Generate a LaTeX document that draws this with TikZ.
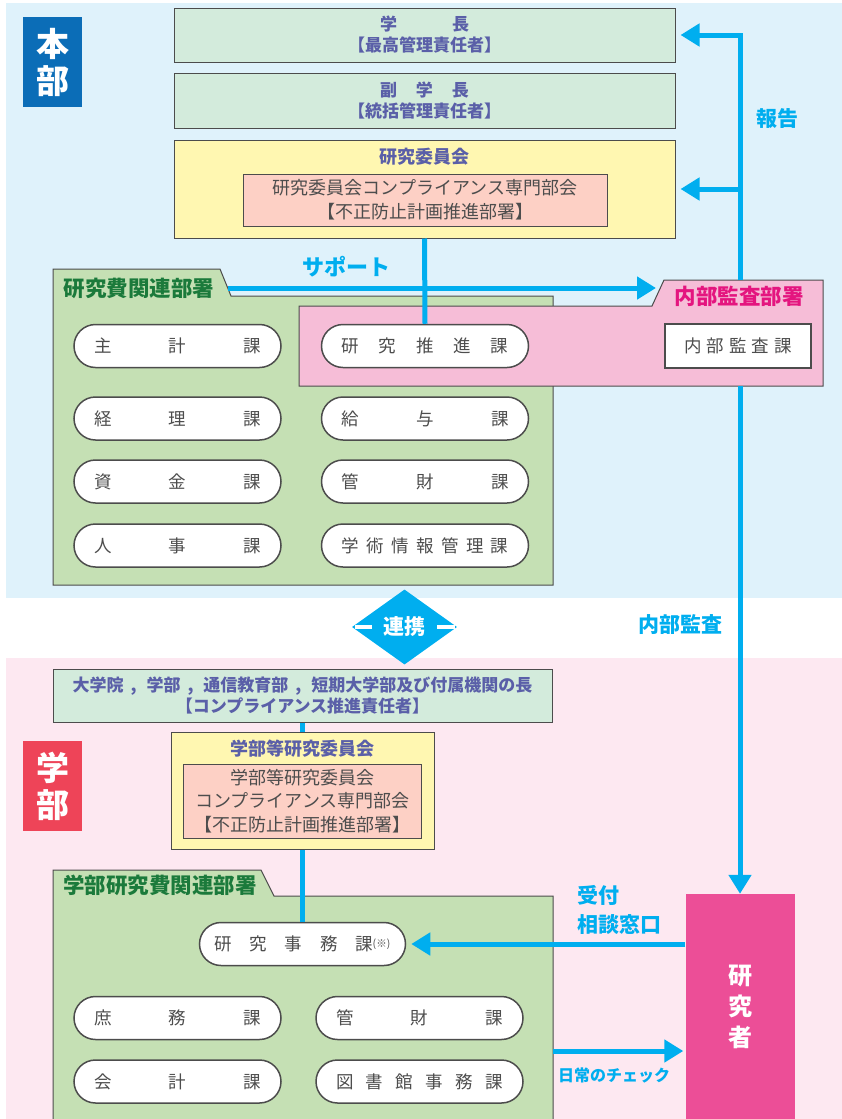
\documentclass[tikz,border=0pt]{standalone}
\usepackage{fontspec}
\setmainfont{Noto Sans CJK JP}
\usepackage{tikz}
\usetikzlibrary{shapes,arrows,arrows.meta}
\usepackage{color}

\definecolor{honbubg}{HTML}{DFF2FB}
\definecolor{gakububg}{HTML}{FDE8F1}
\definecolor{honbutag}{HTML}{0B6DB7}
\definecolor{gakubutag}{HTML}{EE4458}
\definecolor{bossgreen}{HTML}{D3EBDC}
\definecolor{bosstext}{HTML}{5A5FA8}
\definecolor{iinyellow}{HTML}{FFF7B1}
\definecolor{senmonpink}{HTML}{FDD0C5}
\definecolor{deptgreen}{HTML}{C5E0B4}
\definecolor{depttext}{HTML}{1B7A3B}
\definecolor{kansapink}{HTML}{F6BDD7}
\definecolor{kansatext}{HTML}{E4157F}
\definecolor{researcherpink}{HTML}{EC4E97}
\definecolor{flowcyan}{HTML}{00AEEF}
\definecolor{katext}{HTML}{4D4D4D}

\tikzstyle{line} = [draw=flowcyan, line width=5pt, -{Triangle[length=19pt,width=22pt]}]
\tikzstyle{wire} = [draw=flowcyan, line width=5pt]
\tikzstyle{boss} = [draw=black!70, line width=1pt, fill=bossgreen, align=center, inner sep=0pt, text=bosstext, font=\bfseries\fontsize{17}{21}\selectfont]
\tikzstyle{iin} = [draw=black!70, line width=1pt, fill=iinyellow, inner sep=0pt]
\tikzstyle{iintitle} = [text=bosstext, inner sep=0pt, font=\bfseries\fontsize{18}{21}\selectfont]
\tikzstyle{senmon} = [draw=black!70, line width=1pt, fill=senmonpink, align=center, inner sep=0pt, text=katext, font=\fontsize{18}{24}\selectfont]
\tikzstyle{ka} = [rounded rectangle, draw=black!70, line width=1.5pt, fill=white, minimum width=207pt, minimum height=43pt, inner sep=0pt, text=katext, font=\fontsize{17.5}{20}\selectfont]
\tikzstyle{tag} = [text=white, align=center, inner sep=0pt, minimum width=59pt, minimum height=90pt, font=\bfseries\fontsize{33}{37}\selectfont]
\tikzstyle{flow} = [text=flowcyan, inner sep=0pt, align=left, font=\bfseries\fontsize{21}{29}\selectfont]
\tikzstyle{dept} = [draw=black!70, line width=1pt, fill=deptgreen]
\tikzstyle{depttitle} = [text=depttext, inner sep=0pt, font=\bfseries\fontsize{21.5}{24}\selectfont]

\newcommand{\kaname}[1]{\makebox[167pt]{#1}}
\newcommand{\dsep}{\hspace{7pt},\hspace{10pt}}

\begin{document}
\begin{tikzpicture}[x=1pt,y=-1pt]
  \useasboundingbox (0,0) rectangle (842,1119);
  \fill[honbubg] (6,3) rectangle (842,598);
  \fill[gakububg] (6,658) rectangle (842,1119);

  \node[tag, fill=honbutag] (honbu) at (52.5,62) {本\\部};
  \node[tag, fill=gakubutag] (gakubu) at (52.5,786) {学\\部};

  % honbu
  \node[boss, minimum width=501pt, minimum height=54pt] (gakucho) at (424.5,35) {\makebox[89pt]{学\hfill 長}\\【最高管理責任者】};
  \node[boss, minimum width=501pt, minimum height=55pt] (fukugakucho) at (424.5,100.5) {\makebox[89pt]{副\hfill 学\hfill 長}\\【統括管理責任者】};
  \node[iin, minimum width=501pt, minimum height=98pt] (iinkai) at (424.5,189) {};
  \node[iintitle] (iinkaititle) at (424.5,157) {研究委員会};
  \node[senmon, minimum width=364pt, minimum height=52pt] (senmon) at (425,200) {研究委員会コンプライアンス専門部会\\【不正防止計画推進部署】};

  \path[dept] (53,585) -- (53,269) -- (220,269) -- (231,296) -- (553,296) -- (553,585) -- cycle;
  \node[depttitle] (hiyoutitle) at (139,288) {研究費関連部署};

  \path[dept, fill=kansapink] (299,306) -- (652,306) -- (664,280) -- (823,280) -- (823,386) -- (299,386) -- cycle;
  \node[depttitle, text=kansatext] (kansatitle) at (739,296) {内部監査部署};
  \node[draw=black!70, line width=1.5pt, fill=white, minimum width=146pt, minimum height=44pt, inner sep=0pt, text=katext, font=\fontsize{17.5}{20}\selectfont] (kansaka) at (738,346) {\makebox[108pt]{内\hfill 部\hfill 監\hfill 査\hfill 課}};

  \node[ka] (shukei) at (177.5,346) {\kaname{主\hfill 計\hfill 課}};
  \node[ka] (keiri) at (177.5,418.5) {\kaname{経\hfill 理\hfill 課}};
  \node[ka] (shikin) at (177.5,481.5) {\kaname{資\hfill 金\hfill 課}};
  \node[ka] (jinji) at (177.5,545.5) {\kaname{人\hfill 事\hfill 課}};
  \node[ka] (suishin) at (425,346) {\kaname{研\hfill 究\hfill 推\hfill 進\hfill 課}};
  \node[ka] (kyuyo) at (425,418.5) {\kaname{給\hfill 与\hfill 課}};
  \node[ka] (kanzai) at (425,481.5) {\kaname{管\hfill 財\hfill 課}};
  \node[ka] (gakujutsu) at (425,545.5) {\kaname{学\hfill 術\hfill 情\hfill 報\hfill 管\hfill 理\hfill 課}};

  \coordinate (kansatop) at (740,280);
  \coordinate (kansabot) at (740,386);
  \coordinate (hokoku) at (740,189);
  \coordinate (support) at (228,288);
  \coordinate (kansatab) at (656,288);

  \path [line, shorten >=5pt] (kansatop) |- (gakucho.east);
  \path [line, shorten >=5pt] (hokoku) -- (iinkai.east);
  \path [wire] (iinkai.south) -- (suishin.north);
  \path [line] (support) -- (kansatab);

  \node[flow] (hokokulabel) at (777,119) {報告};
  \node[flow, font=\bfseries\fontsize{22}{29}\selectfont] (supportlabel) at (346,267) {サポート};
  \node[flow] (kansalabel) at (680,625) {内部監査};

  % renkei
  \node[diamond, fill=flowcyan, minimum width=105pt, minimum height=75pt, inner sep=0pt, text=white, font=\bfseries\fontsize{21}{24}\selectfont] (renkei) at (404.5,627) {連携};
  \fill[white] (355,625) rectangle (372,629);
  \fill[white] (437,625) rectangle (455,629);

  % gakubu
  \node[boss, minimum width=499pt, minimum height=53pt] (daigakuin) at (302.5,695.5) {大学院\dsep 学部\dsep 通信教育部\dsep 短期大学部及び付属機関の長\\【コンプライアンス推進責任者】};
  \node[iin, minimum width=263pt, minimum height=117pt] (gakubuiinkai) at (302.5,790.5) {};
  \node[iintitle] (gakubutitle) at (302.5,749) {学部等研究委員会};
  \node[senmon, minimum width=238pt, minimum height=74pt, font=\fontsize{18}{23.5}\selectfont] (gakubusenmon) at (302.5,801) {学部等研究委員会\\コンプライアンス専門部会\\【不正防止計画推進部署】};
  \path [wire] (daigakuin.south) -- (gakubuiinkai.north);

  \path[dept] (53,1125) -- (53,870) -- (261,870) -- (274,896) -- (553,896) -- (553,1125);
  \node[depttitle] (gakubuhiyou) at (160,885) {学部研究費関連部署};

  \node[ka, minimum width=206pt] (jimuka) at (302.5,944) {\makebox[158pt]{研\hfill 究\hfill 事\hfill 務\hfill 課}\raisebox{3pt}{\fontsize{10.5}{10.5}\selectfont (※)}};
  \node[ka] (shomu) at (177.5,1018) {\kaname{庶\hfill 務\hfill 課}};
  \node[ka] (kanzaib) at (419.5,1018) {\kaname{管\hfill 財\hfill 課}};
  \node[ka] (kaikei) at (177.5,1081.5) {\kaname{会\hfill 計\hfill 課}};
  \node[ka] (tosho) at (419.5,1081.5) {\kaname{図\hfill 書\hfill 館\hfill 事\hfill 務\hfill 課}};
  \path [wire] (gakubuiinkai.south) -- (jimuka.north);

  \node[fill=researcherpink, minimum width=109pt, minimum height=225pt, inner sep=0pt, text=white, align=center, font=\bfseries\fontsize{24}{31}\selectfont] (kenkyusha) at (740,1006.5) {研\\究\\者};

  \path [line] (kansabot) -- (kenkyusha.north);
  \path [line, shorten >=5pt] (kenkyusha.west |- jimuka.east) -- (jimuka.east);
  \coordinate (nichijo) at (553,1051);
  \path [line, shorten >=2pt] (nichijo) -- (nichijo -| kenkyusha.west);

  \node[flow, anchor=west] (uketsuke) at (577,910) {受付\\相談窓口};
  \node[flow, font=\bfseries\fontsize{16}{18}\selectfont] (nichijolabel) at (614,1075) {日常のチェック};
\end{tikzpicture}
\end{document}
